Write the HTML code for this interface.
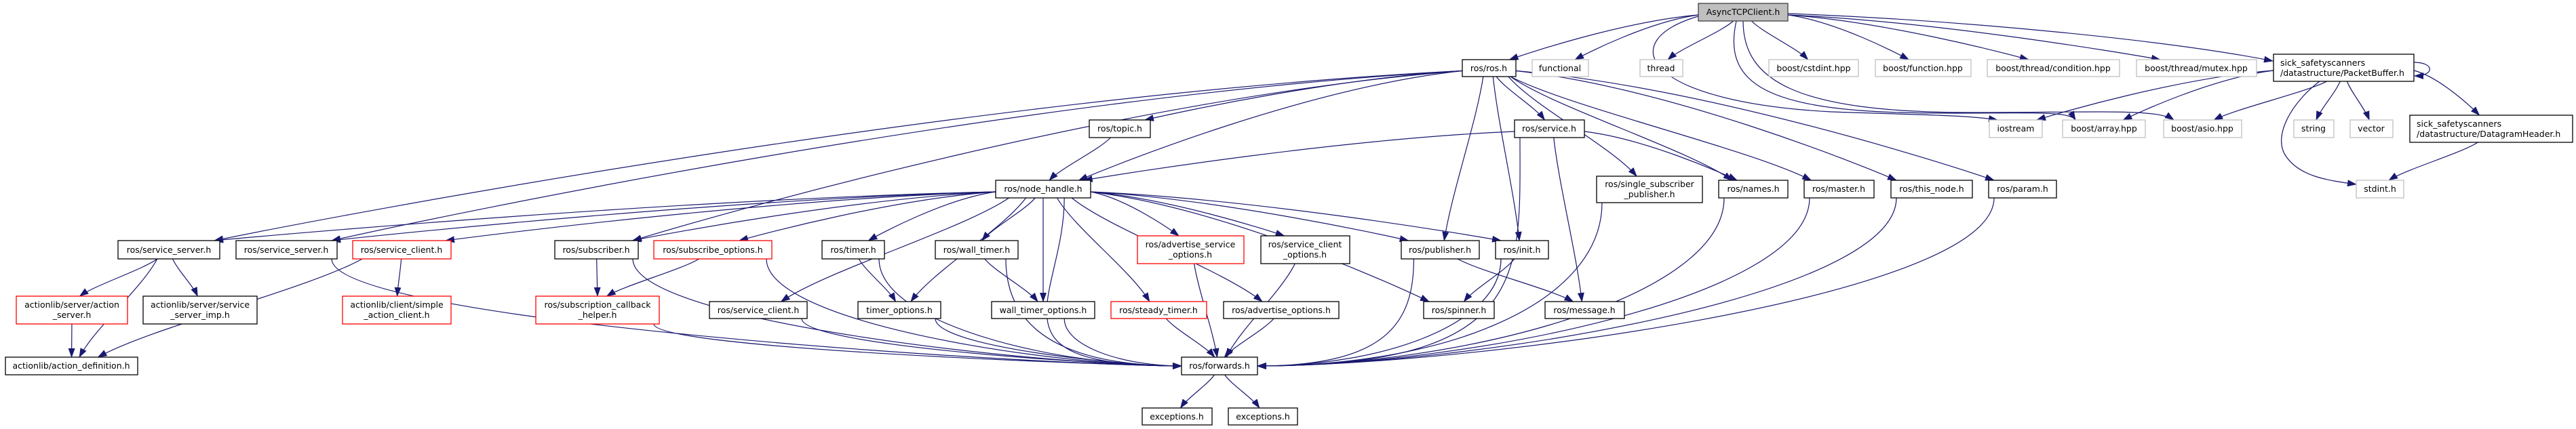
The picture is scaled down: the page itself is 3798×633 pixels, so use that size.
<!DOCTYPE html>
<html><head><meta charset="utf-8"><style>
html,body{margin:0;padding:0;background:#fff;width:3798px;height:633px;overflow:hidden}
text{font-family:"DejaVu Sans","Liberation Sans",sans-serif;font-size:12.5px;fill:#000}
</style></head><body>
<svg id="g" width="3798" height="633" viewBox="0 0 3798 633" xmlns="http://www.w3.org/2000/svg">
<defs><marker id="a" markerUnits="userSpaceOnUse" markerWidth="14" markerHeight="10" refX="13" refY="5" orient="auto"><path d="M0,0 L14,5 L0,10 z" fill="#191970"/></marker></defs>
<g id="edges" fill="none" stroke="#191970" stroke-width="1.2"></g>
<g id="nodes" stroke-width="1.3">
<rect x="2504" y="5" width="132" height="26" fill="#bfbfbf" stroke="#404040"/><text x="2570" y="22" text-anchor="middle">AsyncTCPClient.h</text>
<rect x="2156" y="88" width="79" height="25" fill="#fff" stroke="#000"/><text x="2195" y="105" text-anchor="middle">ros/ros.h</text>
<rect x="2259" y="88" width="83" height="25" fill="#fff" stroke="#bfbfbf"/><text x="2300" y="105" text-anchor="middle">functional</text>
<rect x="2418" y="88" width="63" height="25" fill="#fff" stroke="#bfbfbf"/><text x="2449" y="105" text-anchor="middle">thread</text>
<rect x="2608" y="88" width="132" height="25" fill="#fff" stroke="#bfbfbf"/><text x="2674" y="105" text-anchor="middle">boost/cstdint.hpp</text>
<rect x="2765" y="88" width="141" height="25" fill="#fff" stroke="#bfbfbf"/><text x="2835" y="105" text-anchor="middle">boost/function.hpp</text>
<rect x="2930" y="88" width="195" height="25" fill="#fff" stroke="#bfbfbf"/><text x="3027" y="105" text-anchor="middle">boost/thread/condition.hpp</text>
<rect x="3150" y="88" width="177" height="25" fill="#fff" stroke="#bfbfbf"/><text x="3238" y="105" text-anchor="middle">boost/thread/mutex.hpp</text>
<rect x="3352" y="80" width="207" height="40" fill="#fff" stroke="#000"/><text x="3362" y="97">sick_safetyscanners</text><text x="3362" y="112">/datastructure/PacketBuffer.h</text>
<rect x="1606" y="177" width="90" height="26" fill="#fff" stroke="#000"/><text x="1651" y="194" text-anchor="middle">ros/topic.h</text>
<rect x="2233" y="177" width="103" height="26" fill="#fff" stroke="#000"/><text x="2284" y="194" text-anchor="middle">ros/service.h</text>
<rect x="2933" y="177" width="78" height="26" fill="#fff" stroke="#bfbfbf"/><text x="2972" y="194" text-anchor="middle">iostream</text>
<rect x="3041" y="177" width="122" height="26" fill="#fff" stroke="#bfbfbf"/><text x="3102" y="194" text-anchor="middle">boost/array.hpp</text>
<rect x="3190" y="177" width="115" height="26" fill="#fff" stroke="#bfbfbf"/><text x="3247" y="194" text-anchor="middle">boost/asio.hpp</text>
<rect x="3382" y="177" width="59" height="26" fill="#fff" stroke="#bfbfbf"/><text x="3411" y="194" text-anchor="middle">string</text>
<rect x="3465" y="177" width="63" height="26" fill="#fff" stroke="#bfbfbf"/><text x="3496" y="194" text-anchor="middle">vector</text>
<rect x="3553" y="170" width="240" height="40" fill="#fff" stroke="#000"/><text x="3563" y="187">sick_safetyscanners</text><text x="3563" y="202">/datastructure/DatagramHeader.h</text>
<rect x="1468" y="266" width="140" height="26" fill="#fff" stroke="#000"/><text x="1538" y="283" text-anchor="middle">ros/node_handle.h</text>
<rect x="2354" y="260" width="156" height="39" fill="#fff" stroke="#000"/><text x="2432" y="276" text-anchor="middle">ros/single_subscriber</text><text x="2432" y="291" text-anchor="middle">_publisher.h</text>
<rect x="2534" y="266" width="102" height="26" fill="#fff" stroke="#000"/><text x="2585" y="283" text-anchor="middle">ros/names.h</text>
<rect x="2660" y="266" width="103" height="26" fill="#fff" stroke="#000"/><text x="2711" y="283" text-anchor="middle">ros/master.h</text>
<rect x="2788" y="266" width="120" height="26" fill="#fff" stroke="#000"/><text x="2848" y="283" text-anchor="middle">ros/this_node.h</text>
<rect x="2932" y="266" width="100" height="26" fill="#fff" stroke="#000"/><text x="2982" y="283" text-anchor="middle">ros/param.h</text>
<rect x="3474" y="266" width="70" height="26" fill="#fff" stroke="#bfbfbf"/><text x="3509" y="283" text-anchor="middle">stdint.h</text>
<rect x="174" y="355" width="150" height="27" fill="#fff" stroke="#000"/><text x="249" y="373" text-anchor="middle">ros/service_server.h</text>
<rect x="348" y="355" width="149" height="27" fill="#fff" stroke="#000"/><text x="422" y="373" text-anchor="middle">ros/service_server.h</text>
<rect x="520" y="355" width="145" height="27" fill="#fff" stroke="#ff0000"/><text x="592" y="373" text-anchor="middle">ros/service_client.h</text>
<rect x="818" y="355" width="123" height="27" fill="#fff" stroke="#000"/><text x="879" y="373" text-anchor="middle">ros/subscriber.h</text>
<rect x="964" y="355" width="174" height="27" fill="#fff" stroke="#ff0000"/><text x="1051" y="373" text-anchor="middle">ros/subscribe_options.h</text>
<rect x="1212" y="355" width="92" height="27" fill="#fff" stroke="#000"/><text x="1258" y="373" text-anchor="middle">ros/timer.h</text>
<rect x="1379" y="355" width="122" height="27" fill="#fff" stroke="#000"/><text x="1440" y="373" text-anchor="middle">ros/wall_timer.h</text>
<rect x="1677" y="348" width="157" height="41" fill="#fff" stroke="#ff0000"/><text x="1755" y="365" text-anchor="middle">ros/advertise_service</text><text x="1755" y="380" text-anchor="middle">_options.h</text>
<rect x="1859" y="348" width="131" height="41" fill="#fff" stroke="#000"/><text x="1924" y="365" text-anchor="middle">ros/service_client</text><text x="1924" y="380" text-anchor="middle">_options.h</text>
<rect x="2066" y="355" width="115" height="27" fill="#fff" stroke="#000"/><text x="2123" y="373" text-anchor="middle">ros/publisher.h</text>
<rect x="2205" y="355" width="78" height="27" fill="#fff" stroke="#000"/><text x="2244" y="373" text-anchor="middle">ros/init.h</text>
<rect x="24" y="437" width="164" height="41" fill="#fff" stroke="#ff0000"/><text x="106" y="454" text-anchor="middle">actionlib/server/action</text><text x="106" y="469" text-anchor="middle">_server.h</text>
<rect x="211" y="437" width="168" height="41" fill="#fff" stroke="#000"/><text x="295" y="454" text-anchor="middle">actionlib/server/service</text><text x="295" y="469" text-anchor="middle">_server_imp.h</text>
<rect x="505" y="437" width="160" height="41" fill="#fff" stroke="#ff0000"/><text x="585" y="454" text-anchor="middle">actionlib/client/simple</text><text x="585" y="469" text-anchor="middle">_action_client.h</text>
<rect x="790" y="437" width="182" height="41" fill="#fff" stroke="#ff0000"/><text x="881" y="454" text-anchor="middle">ros/subscription_callback</text><text x="881" y="469" text-anchor="middle">_helper.h</text>
<rect x="1046" y="445" width="144" height="25" fill="#fff" stroke="#000"/><text x="1118" y="462" text-anchor="middle">ros/service_client.h</text>
<rect x="1265" y="445" width="122" height="25" fill="#fff" stroke="#000"/><text x="1326" y="462" text-anchor="middle">timer_options.h</text>
<rect x="1462" y="445" width="152" height="25" fill="#fff" stroke="#000"/><text x="1538" y="462" text-anchor="middle">wall_timer_options.h</text>
<rect x="1638" y="445" width="141" height="25" fill="#fff" stroke="#ff0000"/><text x="1708" y="462" text-anchor="middle">ros/steady_timer.h</text>
<rect x="1804" y="445" width="170" height="25" fill="#fff" stroke="#000"/><text x="1889" y="462" text-anchor="middle">ros/advertise_options.h</text>
<rect x="2099" y="445" width="104" height="25" fill="#fff" stroke="#000"/><text x="2151" y="462" text-anchor="middle">ros/spinner.h</text>
<rect x="2278" y="445" width="117" height="25" fill="#fff" stroke="#000"/><text x="2336" y="462" text-anchor="middle">ros/message.h</text>
<rect x="8" y="527" width="195" height="26" fill="#fff" stroke="#000"/><text x="105" y="544" text-anchor="middle">actionlib/action_definition.h</text>
<rect x="1742" y="527" width="112" height="26" fill="#fff" stroke="#000"/><text x="1798" y="544" text-anchor="middle">ros/forwards.h</text>
<rect x="1684" y="602" width="103" height="25" fill="#fff" stroke="#000"/><text x="1735" y="619" text-anchor="middle">exceptions.h</text>
<rect x="1811" y="602" width="102" height="25" fill="#fff" stroke="#000"/><text x="1862" y="619" text-anchor="middle">exceptions.h</text>
</g>
</svg>
<script>
var N={AS:[2504,5,2636,31],ROS:[2156,88,2235,113],FUN:[2259,88,2342,113],THR:[2418,88,2481,113],CST:[2608,88,2740,113],BFN:[2765,88,2906,113],CND:[2930,88,3125,113],MTX:[3150,88,3327,113],PB:[3352,80,3559,120],TOP:[1606,177,1696,203],SRV:[2233,177,2336,203],IOS:[2933,177,3011,203],ARR:[3041,177,3163,203],ASI:[3190,177,3305,203],STR:[3382,177,3441,203],VEC:[3465,177,3528,203],DG:[3553,170,3793,210],NH:[1468,266,1608,292],SSP:[2354,260,2510,299],NAM:[2534,266,2636,292],MAS:[2660,266,2763,292],TN:[2788,266,2908,292],PAR:[2932,266,3032,292],STD:[3474,266,3544,292],SSA:[174,355,324,382],SSB:[348,355,497,382],SCR:[520,355,665,382],SUB:[818,355,941,382],SUBO:[964,355,1138,382],TIM:[1212,355,1304,382],WT:[1379,355,1501,382],ASO:[1677,348,1834,389],SCO:[1859,348,1990,389],PUB:[2066,355,2181,382],INI:[2205,355,2283,382],ACS:[24,437,188,478],SSI:[211,437,379,478],SAC:[505,437,665,478],SCH:[790,437,972,478],SC2:[1046,445,1190,470],TO:[1265,445,1387,470],WTO:[1462,445,1614,470],ST:[1638,445,1779,470],AO:[1804,445,1974,470],SPN:[2099,445,2203,470],MSG:[2278,445,2395,470],AD:[8,527,203,553],FWD:[1742,527,1854,553],EX1:[1684,602,1787,627],EX2:[1811,602,1913,627]};
var E=[["AS","ROS"],["AS","FUN"],["AS","THR"],["AS","CST"],["AS","BFN"],["AS","CND"],["AS","MTX"],
["ROS","SSA"],["ROS","SSB"],["ROS","SUB"],["ROS","TOP"],["ROS","NH"],["ROS","SRV"],["ROS","PUB"],["ROS","INI"],["ROS","SSP"],["ROS","NAM"],["ROS","MAS"],["ROS","TN"],["ROS","PAR"],
["TOP","NH"],["SRV","NH"],["SRV","NAM"],["SRV","MSG"],["SRV","FWD"],
["NH","SSA"],["NH","SSB"],["NH","SCR"],["NH","SUB"],["NH","SUBO"],["NH","SC2"],["NH","TIM"],["NH","TO"],["NH","WT"],["NH","WTO"],["NH","ASO"],["NH","SCO"],["NH","ST"],["NH","AO"],["NH","PUB"],["NH","INI"],["NH","SPN"],["NH","FWD"],
["SSA","AD"],["SSA","ACS"],["SSA","SSI"],["SSB","FWD"],["SCR","AD"],["SCR","SAC"],["SUB","SCH"],["SUB","FWD"],["SUBO","SCH"],["SUBO","FWD"],["SCH","FWD"],["ACS","AD"],
["TIM","TO"],["TIM","FWD"],["WT","WTO"],["WT","FWD"],["SC2","FWD"],["TO","FWD"],["WTO","FWD"],["ST","FWD"],["AO","FWD"],["ASO","FWD"],["SCO","FWD"],
["PUB","MSG"],["PUB","FWD"],["INI","SPN"],["INI","FWD"],["SSP","FWD"],["NAM","FWD"],["MAS","FWD"],["TN","FWD"],["PAR","FWD"],
["FWD","EX1"],["FWD","EX2"],
["PB","IOS"],["PB","ARR"],["PB","ASI"],["PB","STR"],["PB","VEC"],["PB","DG"],["DG","STD"]];
var g=document.getElementById("edges"),s="";
function P(d){s+='<path d="'+d+'" marker-end="url(#a)"/>';}
E.forEach(function(e){var a=N[e[0]],b=N[e[1]];var acx=(a[0]+a[2])/2,bcx=(b[0]+b[2])/2;
var sx=acx+(bcx-acx)*0.12;sx=Math.max(a[0]+8,Math.min(a[2]-8,sx));var sy=a[3];
if(e[1]=="FWD"&&(bcx-acx>250||acx-bcx>250)){var left=acx<bcx;var tx=left?b[0]:b[2],ty=540;
var dy=ty-sy;P("M"+sx+","+sy+" C"+sx+","+(sy+dy*0.6)+" "+(left?tx-dy*1.2:tx+dy*1.2)+","+ty+" "+tx+","+ty);return;}
var tx=bcx-(bcx-acx)*0.08;tx=Math.max(b[0]+8,Math.min(b[2]-8,tx));var ty=b[1];var dy=ty-sy;var w=Math.abs(tx-sx);
if(w>3*dy){var left=bcx<acx;sx=left?a[0]:a[2];sy=(a[1]+a[3])/2+4;dy=ty-sy;
P("M"+sx+","+sy+" C"+(sx+(tx-sx)*0.4)+","+(sy+dy*0.15)+" "+(tx+(sx-tx)*0.1)+","+(ty-dy*0.15)+" "+tx+","+ty);return;}
P("M"+sx+","+sy+" C"+(sx+(tx-sx)*0.2)+","+(sy+dy*0.3)+" "+(tx-(tx-sx)*0.2)+","+(ty-dy*0.3)+" "+tx+","+ty);});
P("M2636,20 C2900,30 3200,60 3351,90");
P("M2504,24 C2380,60 2420,150 2700,165 C2850,170 2900,170 2945,177");
P("M2560,31 C2540,120 2600,160 2800,166 C2950,170 3050,160 3060,177");
P("M2570,31 C2570,120 2650,165 2900,166 C3100,166 3180,160 3205,177");
P("M3420,120 C3380,150 3350,200 3370,230 C3390,260 3430,266 3474,272");
P("M3559,92 C3590,92 3590,112 3560,112");
g.innerHTML=s;
</script>
</body></html>
